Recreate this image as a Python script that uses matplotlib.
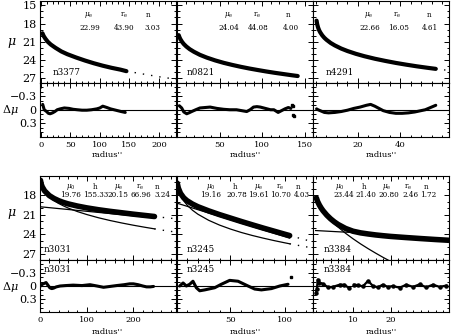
import matplotlib
matplotlib.use('Agg')
import matplotlib.pyplot as plt
from matplotlib.ticker import MultipleLocator, FixedLocator, NullFormatter

plt.rcParams['font.family'] = ['DejaVu Serif']
plt.rcParams['mathtext.fontset'] = 'dejavuserif'

# ---------------- data ----------------
# top row: single Sersic fits
n3377_r = [3, 5, 8, 12, 17, 25, 35, 45, 60, 75, 90, 105, 120, 135, 145]
n3377_mu = [19.6, 20.05, 20.5, 21.0, 21.45, 22.0, 22.6, 23.05, 23.6, 24.1, 24.55, 24.95, 25.3, 25.6, 25.85]
n3377_ext_r = [145, 160, 175, 190, 205, 220, 230]
n3377_ext_mu = [25.8, 26.1, 26.35, 26.6, 26.85, 27.05, 27.2]
n3377_res_r = [3.4, 6, 10, 13, 16, 20, 24, 28, 33, 40, 48, 55, 62, 70, 78, 86, 95, 100, 105, 112, 118, 124, 130, 136, 143]
n3377_res = [-0.12, 0.0, 0.04, 0.08, 0.09, 0.07, 0.04, 0.0, -0.02, -0.04, -0.03, -0.01, 0.0, 0.01, 0.01, 0.0, -0.02, -0.04, -0.08, -0.05, -0.02, 0.0, 0.02, 0.04, 0.06]

n0821_r = [2, 3, 4, 6, 8, 11, 15, 20, 27, 35, 45, 55, 65, 75, 85, 95, 105, 115, 125, 135, 142]
n0821_mu = [19.91, 20.29, 20.58, 21.03, 21.38, 21.79, 22.23, 22.66, 23.16, 23.61, 24.08, 24.48, 24.82, 25.13, 25.41, 25.66, 25.90, 26.12, 26.32, 26.52, 26.65]
n0821_res_r = [2.7, 5.5, 8, 11.4, 14, 17.3, 22, 27, 33, 39, 47, 55, 62, 70, 76, 82, 86, 90, 94, 98, 102, 106, 110, 114, 119, 123, 127, 131, 134]
n0821_res = [-0.09, -0.04, 0.05, 0.09, 0.07, 0.04, 0.0, -0.04, -0.05, -0.06, -0.03, -0.01, 0.0, 0.0, 0.02, 0.04, 0.0, -0.06, -0.07, -0.06, -0.04, -0.02, 0.0, 0.0, 0.06, 0.02, -0.02, -0.05, -0.03]
n0821_out_r = [135, 136.5, 137.5, 137]
n0821_out = [-0.11, 0.12, 0.15, -0.08]

n4291_r = [0.3, 0.6, 1, 1.5, 2, 3, 4, 5, 7, 9, 12, 15, 19, 23, 28, 33, 38, 43, 48, 53, 57]
n4291_mu = [17.52, 18.13, 18.64, 19.09, 19.43, 19.95, 20.35, 20.67, 21.20, 21.61, 22.12, 22.53, 22.99, 23.38, 23.80, 24.16, 24.49, 24.78, 25.05, 25.29, 25.47]
n4291_ext_r = [57, 60, 63]
n4291_ext_mu = [25.47, 25.6, 25.72]
n4291_res_r = [0.3, 1, 2, 4, 6, 9, 12, 15, 18, 21, 24, 26, 28, 30, 32, 35, 38, 41, 44, 47, 50, 52, 54, 57]
n4291_res = [-0.02, 0.0, 0.02, 0.06, 0.07, 0.06, 0.04, 0.01, -0.03, -0.06, -0.1, -0.12, -0.08, -0.03, 0.02, 0.06, 0.08, 0.08, 0.07, 0.05, 0.02, 0.0, -0.04, -0.1]

# bottom row: bulge + disk fits
n3031_r = [1, 3, 5, 10, 20, 30, 40, 50, 60, 80, 100, 125, 150, 175, 200, 225, 245]
n3031_mu = [15.66, 16.33, 16.70, 17.31, 18.03, 18.48, 18.82, 19.09, 19.31, 19.65, 19.93, 20.22, 20.47, 20.69, 20.91, 21.11, 21.27]
n3031_bul_r = [20, 30, 40, 50, 60, 80, 100, 125, 150, 175, 200, 225, 245]
n3031_bul_mu = [18.24, 18.80, 19.25, 19.62, 19.95, 20.50, 20.96, 21.46, 21.89, 22.27, 22.62, 22.94, 23.18]
n3031_disk_r = [0, 50, 100, 150, 200, 245]
n3031_disk_mu = [19.76, 20.11, 20.46, 20.81, 21.16, 21.47]
n3031_ext_r = [245, 260, 275, 290]
n3031_ext_tot = [21.27, 21.39, 21.5, 21.61]
n3031_ext_bul = [23.18, 23.36, 23.52, 23.67]
n3031_res_r = [1.4, 5, 9, 13, 17, 21, 25, 29, 35, 43, 55, 71, 90, 107, 122, 136, 150, 164, 180, 192, 200, 210, 220, 228, 236, 243]
n3031_res = [0.0, -0.04, -0.06, -0.08, -0.02, 0.04, 0.06, 0.05, 0.02, 0.0, -0.01, -0.02, -0.01, -0.03, 0.0, 0.03, 0.01, -0.01, -0.03, -0.05, -0.05, -0.03, 0.0, 0.02, 0.02, 0.01]

n3245_r = [1, 2, 4, 7, 10, 15, 20, 30, 40, 50, 60, 70, 80, 90, 100, 104.5]
n3245_mu = [16.11, 16.86, 17.68, 18.38, 18.82, 19.34, 19.75, 20.40, 20.98, 21.51, 22.04, 22.55, 23.05, 23.53, 24.01, 24.22]
n3245_bul_r = [4, 7, 10, 15, 20, 30, 40, 50, 60, 70, 80, 90, 100, 104.5]
n3245_bul_mu = [17.94, 18.84, 19.48, 20.29, 20.91, 21.86, 22.60, 23.21, 23.74, 24.20, 24.61, 24.99, 25.34, 25.49]
n3245_disk_r = [0, 20, 40, 60, 80, 104.5]
n3245_disk_mu = [19.16, 20.21, 21.25, 22.30, 23.34, 24.62]
n3245_ext_r = [104.5, 110, 115, 120, 125]
n3245_ext_tot = [24.22, 24.46, 24.70, 24.92, 25.13]
n3245_ext_bul = [25.49, 25.66, 25.82, 25.97, 26.11]
n3245_res_r = [3.3, 6.4, 9.4, 12.5, 15.5, 18.6, 21.7, 26.3, 35.5, 41.6, 49.3, 57, 66.2, 72.3, 78.5, 87.7, 95.4, 103]
n3245_res = [0.0, -0.07, 0.0, -0.04, -0.11, 0.04, 0.11, 0.09, 0.04, -0.04, -0.13, -0.11, 0.0, 0.07, 0.09, 0.06, 0.0, -0.04]
n3245_out_r = [105.5]
n3245_out = [-0.21]

n3384_r = [0.2, 0.5, 1, 1.5, 2, 3, 4, 5, 6, 8, 10, 12, 14, 16, 18, 20, 24, 28, 32, 35.6]
n3384_mu = [18.40, 18.91, 19.50, 19.98, 20.39, 21.07, 21.63, 22.10, 22.50, 23.12, 23.55, 23.8, 23.97, 24.12, 24.24, 24.35, 24.52, 24.68, 24.83, 24.95]
n3384_bul_r = [0.2, 0.5, 1, 1.5, 2, 3, 4, 5, 6, 8, 10, 12, 14, 16, 18, 19.5]
n3384_bul_mu = [18.41, 18.92, 19.53, 20.02, 20.45, 21.18, 21.82, 22.39, 22.91, 23.87, 24.72, 25.51, 26.24, 26.93, 27.59, 28.06]
n3384_disk_r = [0, 5, 10, 14]
n3384_disk_mu = [23.44, 23.60, 23.75, 23.9]
n3384_res_r = [0.1, 0.3, 0.6, 1.0, 2.0, 3.3, 4.6, 6.4, 7.7, 8.9]
n3384_res = [0.15, 0.08, -0.15, -0.08, -0.05, 0.03, 0.02, -0.03, -0.03, 0.05]
n3384_res2_r = [10.2, 11.3, 12.6, 14, 15.3, 16.6, 17.9, 19.3, 20.6, 22.4, 24.2, 26, 27.8, 29.5, 31.3, 33.1, 34.9]
n3384_res2 = [-0.03, -0.02, 0.01, -0.12, 0.0, 0.03, -0.03, 0.02, 0.0, 0.04, -0.03, 0.02, -0.04, 0.03, -0.03, 0.02, -0.01]

top_names = ['n3377', 'n0821', 'n4291']
top_headers = [r'$\mu_{\rm e}$', r'$\rm r_e$', 'n']
top_values = [['22.99', '43.90', '3.03'], ['24.04', '44.08', '4.00'], ['22.66', '16.05', '4.61']]
bot_names = ['n3031', 'n3245', 'n3384']
bot_headers = [r'$\mu_0$', 'h', r'$\mu_{\rm e}$', r'$\rm r_e$', 'n']
bot_values = [['19.76', '155.33', '20.15', '66.96', '3.24'],
              ['19.16', '20.78', '19.61', '10.70', '4.03'],
              ['23.44', '21.40', '20.80', '2.46', '1.72']]

# ---------------- layout ----------------
W, H = 451, 336
fig = plt.figure(figsize=(W / 100, H / 100), dpi=100)


def px_axes(left, top, width, height):
    return fig.add_axes([left / W, 1 - (top + height) / H, width / W, height / H])


def style(ax):
    ax.tick_params(which='both', direction='in', top=True, right=True, width=0.7)
    ax.tick_params(which='major', length=3.5)
    ax.tick_params(which='minor', length=1.8)
    ax.tick_params(axis='x', labelsize=6, pad=3)
    ax.tick_params(axis='y', labelsize=8, pad=2)
    for s in ax.spines.values():
        s.set_linewidth(0.8)


lefts = [39.5, 177, 313]
pw = 136
top_xlims = [(-2, 228), (0, 160), (-1.4, 63.3)]
top_xticks = [[0, 50, 100, 150, 200], [50, 100, 150], [20, 40]]
top_xminor = [10, 10, 5]
bot_xlims = [(-1, 290), (0.8, 126), (-0.7, 35.6)]
bot_xticks = [[0, 100, 200], [50, 100], [10, 20]]
bot_xminor = [20, 10, 2]

top_hdr_x = [[0.36, 0.62, 0.80], [0.38, 0.59, 0.82], [0.41, 0.62, 0.85]]
top_val_x = [[0.37, 0.62, 0.83], [0.38, 0.60, 0.84], [0.42, 0.63, 0.86]]
bot_hdr_x = [[0.23, 0.41, 0.58, 0.74, 0.865], [0.245, 0.43, 0.60, 0.76, 0.89], [0.20, 0.375, 0.54, 0.70, 0.835]]
bot_val_x = [[0.23, 0.41, 0.58, 0.745, 0.905], [0.245, 0.44, 0.60, 0.76, 0.92], [0.225, 0.39, 0.555, 0.715, 0.85]]
name_x_top = [0.10, 0.07, 0.09]
name_x_bot = [0.03, 0.07, 0.075]

dot = (0, (1, 5))
txt = dict(fontsize=5.2, ha='center', va='center')

# ---------------- top row ----------------
top_data = [(n3377_r, n3377_mu), (n0821_r, n0821_mu), (n4291_r, n4291_mu)]
top_ext = [(n3377_ext_r, n3377_ext_mu), None, (n4291_ext_r, n4291_ext_mu)]
top_res = [(n3377_res_r, n3377_res), (n0821_res_r, n0821_res), (n4291_res_r, n4291_res)]

for i in range(3):
    ax = px_axes(lefts[i], 0.5, pw, 82.5)
    ax.plot(*top_data[i], color='k', lw=3, solid_capstyle='round', solid_joinstyle='round')
    if top_ext[i] is not None:
        ax.plot(*top_ext[i], color='k', lw=1.0, ls=dot)
    ax.set_xlim(*top_xlims[i])
    ax.set_ylim(27.8, 14.2)
    ax.yaxis.set_major_locator(FixedLocator([15, 18, 21, 24, 27]))
    ax.yaxis.set_minor_locator(MultipleLocator(1))
    ax.xaxis.set_major_locator(FixedLocator(top_xticks[i]))
    ax.xaxis.set_minor_locator(MultipleLocator(top_xminor[i]))
    ax.xaxis.set_major_formatter(NullFormatter())
    if i > 0:
        ax.yaxis.set_major_formatter(NullFormatter())
    style(ax)
    for j in range(3):
        ax.text(top_hdr_x[i][j], 0.825, top_headers[j], transform=ax.transAxes, **txt)
        ax.text(top_val_x[i][j], 0.667, top_values[i][j], transform=ax.transAxes, **txt)
    ax.text(name_x_top[i], 0.125, top_names[i], transform=ax.transAxes, fontsize=6.3,
            ha='left', va='center')

    axr = px_axes(lefts[i], 83, pw, 53.5)
    axr.axhline(0, color='k', lw=0.8)
    axr.plot(*top_res[i], color='k', lw=2.2, solid_capstyle='round', solid_joinstyle='round')
    if i == 1:
        axr.plot(n0821_out_r, n0821_out, 'ks', ms=1.6)
    axr.set_xlim(*top_xlims[i])
    axr.set_ylim(0.6, -0.6)
    axr.yaxis.set_major_locator(FixedLocator([-0.3, 0, 0.3]))
    axr.yaxis.set_minor_locator(MultipleLocator(0.1))
    axr.xaxis.set_major_locator(FixedLocator(top_xticks[i]))
    axr.xaxis.set_minor_locator(MultipleLocator(top_xminor[i]))
    axr.set_yticklabels(['\u22120.3', '0', '0.3'])
    if i > 0:
        axr.yaxis.set_major_formatter(NullFormatter())
    style(axr)
    axr.text(0.5, -0.35, "radius''", transform=axr.transAxes, fontsize=6,
             ha='center', va='center')

# ---------------- bottom row ----------------
bot_data = [(n3031_r, n3031_mu), (n3245_r, n3245_mu), (n3384_r, n3384_mu)]
bot_bul = [(n3031_bul_r, n3031_bul_mu), (n3245_bul_r, n3245_bul_mu), (n3384_bul_r, n3384_bul_mu)]
bot_disk = [(n3031_disk_r, n3031_disk_mu), (n3245_disk_r, n3245_disk_mu), (n3384_disk_r, n3384_disk_mu)]
bot_ext = [(n3031_ext_r, n3031_ext_tot, n3031_ext_bul), (n3245_ext_r, n3245_ext_tot, n3245_ext_bul), None]
bot_res = [(n3031_res_r, n3031_res), (n3245_res_r, n3245_res), (n3384_res_r, n3384_res)]

for i in range(3):
    ax = px_axes(lefts[i], 176, pw, 84)
    ax.plot(*bot_disk[i], color='k', lw=0.9)
    ax.plot(*bot_bul[i], color='k', lw=0.9)
    ax.plot(*bot_data[i], color='k', lw=4, solid_capstyle='round', solid_joinstyle='round')
    if bot_ext[i] is not None:
        er, et, eb = bot_ext[i]
        ax.plot(er, et, color='k', lw=1.0, ls=dot)
        ax.plot(er, eb, color='k', lw=1.0, ls=dot)
    ax.set_xlim(*bot_xlims[i])
    ax.set_ylim(28, 15)
    ax.yaxis.set_major_locator(FixedLocator([18, 21, 24, 27]))
    ax.yaxis.set_minor_locator(MultipleLocator(1))
    ax.xaxis.set_major_locator(FixedLocator(bot_xticks[i]))
    ax.xaxis.set_minor_locator(MultipleLocator(bot_xminor[i]))
    ax.xaxis.set_major_formatter(NullFormatter())
    if i > 0:
        ax.yaxis.set_major_formatter(NullFormatter())
    style(ax)
    for j in range(5):
        ax.text(bot_hdr_x[i][j], 0.87, bot_headers[j], transform=ax.transAxes, **txt)
        ax.text(bot_val_x[i][j], 0.775, bot_values[i][j], transform=ax.transAxes, **txt)
    ax.text(name_x_bot[i], 0.13, bot_names[i], transform=ax.transAxes, fontsize=6.3,
            ha='left', va='center')

    axr = px_axes(lefts[i], 260, pw, 52)
    axr.axhline(0, color='k', lw=0.8)
    if i < 2:
        axr.plot(*bot_res[i], color='k', lw=2.2, solid_capstyle='round', solid_joinstyle='round')
    else:
        axr.plot(*bot_res[i], color='k', lw=1.6, marker='o', ms=2.2)
        axr.plot(n3384_res2_r, n3384_res2, color='k', lw=1.6, marker='o', ms=2.2)
    if i == 1:
        axr.plot(n3245_out_r, n3245_out, 'ks', ms=1.6)
    axr.set_xlim(*bot_xlims[i])
    axr.set_ylim(0.6, -0.6)
    axr.yaxis.set_major_locator(FixedLocator([-0.3, 0, 0.3]))
    axr.yaxis.set_minor_locator(MultipleLocator(0.1))
    axr.xaxis.set_major_locator(FixedLocator(bot_xticks[i]))
    axr.xaxis.set_minor_locator(MultipleLocator(bot_xminor[i]))
    axr.set_yticklabels(['\u22120.3', '0', '0.3'])
    if i > 0:
        axr.yaxis.set_major_formatter(NullFormatter())
    style(axr)
    axr.text(name_x_bot[i], 0.81, bot_names[i], transform=axr.transAxes, fontsize=6.3,
             ha='left', va='center')
    axr.text(0.5, -0.38, "radius''", transform=axr.transAxes, fontsize=6,
             ha='center', va='center')

# y labels
fig.text(12 / W, 1 - 43 / H, r'$\mu$', fontsize=9, ha='center', va='center')
fig.text(10 / W, 1 - 110 / H, r'$\Delta\mu$', fontsize=8, ha='center', va='center')
fig.text(12 / W, 1 - 214 / H, r'$\mu$', fontsize=9, ha='center', va='center')
fig.text(10 / W, 1 - 287 / H, r'$\Delta\mu$', fontsize=8, ha='center', va='center')

fig.savefig('out.png', dpi=100)
